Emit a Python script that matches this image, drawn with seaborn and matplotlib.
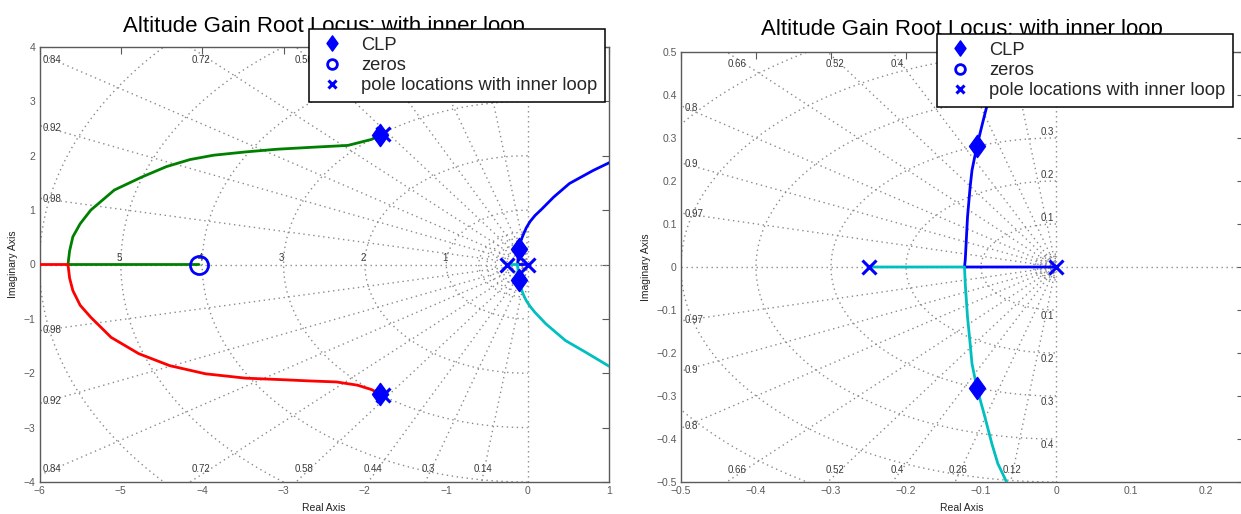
import numpy as np
import matplotlib
matplotlib.use("Agg")
import matplotlib.pyplot as plt
from matplotlib.lines import Line2D
from matplotlib.path import Path
import seaborn as sns

# ---- root locus branches (real / imaginary parts) ----
green_re = [-1.81, -1.92, -2.21, -2.60, -3.08, -3.47, -3.86, -4.15, -4.44, -4.74,
            -5.08, -5.37, -5.50, -5.59, -5.63, -5.65, -4.04]
green_im = [2.38, 2.30, 2.19, 2.16, 2.12, 2.07, 2.01, 1.93, 1.80, 1.61,
            1.37, 1.00, 0.75, 0.51, 0.25, 0.0, 0.0]

red_re = [-1.81, -1.92, -2.09, -2.35, -2.70, -2.99, -3.47, -3.96, -4.40, -4.78,
          -5.12, -5.37, -5.50, -5.59, -5.63, -5.65, -6.30]
red_im = [-2.38, -2.30, -2.22, -2.16, -2.14, -2.12, -2.09, -2.01, -1.86, -1.64,
          -1.34, -0.97, -0.75, -0.48, -0.25, 0.0, 0.0]

blue_re = [0.0, -0.122, -0.121, -0.118, -0.1145, -0.112, -0.1055, -0.097, -0.088,
           -0.078, -0.067, -0.045, -0.015, 0.03, 0.09, 0.174, 0.32, 0.514, 0.806,
           1.0, 1.1]
blue_im = [0.0, 0.0, 0.016, 0.116, 0.186, 0.225, 0.281, 0.341, 0.403,
           0.457, 0.50, 0.58, 0.68, 0.79, 0.90, 1.02, 1.24, 1.49, 1.73,
           1.87, 1.93]

cyan_re = [-0.25, -0.122, -0.121, -0.118, -0.1145, -0.112, -0.1055, -0.096, -0.0855,
           -0.0776, -0.067, -0.045, -0.015, 0.03, 0.09, 0.223, 0.466, 0.709,
           1.0, 1.1]
cyan_im = [0.0, 0.0, -0.039, -0.116, -0.178, -0.225, -0.281, -0.341, -0.411,
           -0.457, -0.496, -0.58, -0.67, -0.77, -0.88, -1.09, -1.40, -1.61,
           -1.87, -1.93]

# ---- markers ----
clp_re = [-1.81, -1.81, -0.105, -0.105]
clp_im = [2.38, -2.38, 0.281, -0.281]
zero_re = [-4.04]
zero_im = [0.0]
pole_re = [-0.25, 0.0, -1.78, -1.78]
pole_im = [0.0, 0.0, 2.395, -2.395]

branch_colors = ["#008000", "#ff0000", "#0000ff", "#00bfbf"]
title_text = "Altitude Gain Root Locus: with inner loop"
legend_labels = ["CLP", "zeros", "pole locations with inner loop"]

# ---- s-plane grid settings for each panel ----
left_grid = dict(zetas=[0.14, 0.3, 0.44, 0.58, 0.72, 0.84, 0.92, 0.98],
                 wns=[1, 2, 3, 4, 5, 6],
                 fine=[0.1, 0.2, 0.3, 0.4, 0.5, 0.6],
                 wn_labels=[1, 2, 3, 4, 5],
                 xlim=(-6, 1), ylim=(-4, 4))
right_grid = dict(zetas=[0.12, 0.26, 0.4, 0.52, 0.66, 0.8, 0.9, 0.97],
                  wns=[0.1, 0.2, 0.3, 0.4, 0.5, 0.6],
                  fine=[0.005, 0.01, 0.015, 0.02, 0.025, 0.03],
                  wn_labels=[0.1, 0.2, 0.3, 0.4],
                  xlim=(-0.5, 0.25), ylim=(-0.5, 0.5))

sns.set_theme(style="white")
plt.rcParams["font.family"] = ["Liberation Sans", "DejaVu Sans"]

GRID_C = "#8a8a8a"
LABEL_C = "#3a3a3a"
AXIS_C = "#5a5a5a"
DOT = (0, (1, 2.6))

diamond = Path([(0, 1), (0.72, 0), (0, -1), (-0.72, 0), (0, 1)],
               [Path.MOVETO, Path.LINETO, Path.LINETO, Path.LINETO, Path.CLOSEPOLY])


def draw_sgrid(ax, zetas, wns, fine, wn_labels, xlim, ylim, wn_on_imag):
    xmin, xmax = xlim
    ymin, ymax = ylim
    xr, yr = xmax - xmin, ymax - ymin
    big = 10 * max(abs(xmin), ymax)
    kw = dict(color=GRID_C, lw=1.0, ls=DOT, zorder=1)
    for z in zetas:
        w = np.sqrt(1 - z ** 2)
        ax.plot([0, -z * big], [0, w * big], **kw)
        ax.plot([0, -z * big], [0, -w * big], **kw)
        t_left = -xmin / z
        t_top = ymax / w
        if t_top < t_left:
            yl = ymax - 0.029 * yr
            xl = -z * (0.967 * ymax) / w
            for s in (1, -1):
                ax.text(xl, s * yl, f"{z:g}", ha="center", va="center",
                        fontsize=7, color=LABEL_C, zorder=2)
        else:
            yl = min(w * t_left * 0.985, ymax - 0.029 * yr)
            xl = xmin + 0.006 * xr
            for s in (1, -1):
                ax.text(xl, s * yl, f"{z:g}", ha="left", va="center",
                        fontsize=7, color=LABEL_C, zorder=2)
    ax.axhline(0, **kw)
    ax.axvline(0, **kw)
    th = np.linspace(np.pi / 2, 3 * np.pi / 2, 400)
    for r in list(wns) + list(fine):
        ax.plot(r * np.cos(th), r * np.sin(th), **kw)
    for r in wn_labels:
        if wn_on_imag:
            for s in (1, -1):
                ax.text(-0.016 * xr, s * (r + 0.014 * yr), f"{r:g}", ha="center",
                        va="center", fontsize=7, color=LABEL_C, zorder=2)
        else:
            ax.text(-r - 0.003 * xr, 0.015 * yr, f"{r:g}", ha="center",
                    va="center", fontsize=7, color=LABEL_C, zorder=2)


def draw_locus(ax):
    for (re, im), c in zip([(green_re, green_im), (red_re, red_im),
                            (blue_re, blue_im), (cyan_re, cyan_im)], branch_colors):
        sns.lineplot(x=re, y=im, sort=False, estimator=None, color=c, lw=2.0,
                     ax=ax, zorder=3)
    ax.plot(pole_re, pole_im, ls="none", marker="x", ms=10, mew=2.2,
            color="#0000ff", zorder=4)
    ax.plot(zero_re, zero_im, ls="none", marker="o", ms=13, mew=2.0,
            mfc="none", mec="#0000ff", zorder=4)
    ax.plot(clp_re, clp_im, ls="none", marker=diamond, ms=16, color="#0000ff",
            mec="#0000ff", zorder=5)


def style_axes(ax, xlim, ylim, xticks, yticks, title_pad):
    ax.set_xlim(*xlim)
    ax.set_ylim(*ylim)
    ax.set_xticks(xticks)
    ax.set_yticks(yticks)
    ax.set_xticklabels([f"{v:g}".replace("-", "\u2212") for v in xticks])
    ax.set_yticklabels([f"{v:g}".replace("-", "\u2212") for v in yticks])
    ax.tick_params(direction="in", top=True, right=True, length=5, width=0.8,
                   color=AXIS_C, labelcolor=AXIS_C, labelsize=7.5, pad=3)
    for sp in ax.spines.values():
        sp.set_color(AXIS_C)
        sp.set_linewidth(1.0)
    ax.set_xlabel("Real Axis", fontsize=7.5, color="#222222", labelpad=5)
    ax.set_ylabel("Imaginary Axis", fontsize=7.5, color="#222222", labelpad=4)
    ax.set_title(title_text, fontsize=16, color="black", pad=title_pad)
    ax.grid(False)


def add_legend(ax, anchor):
    handles = [
        Line2D([], [], ls="none", marker=diamond, ms=11, color="#0000ff"),
        Line2D([], [], ls="none", marker="o", ms=7, mew=2.0, mfc="none",
               mec="#0000ff"),
        Line2D([], [], ls="none", marker="x", ms=5.5, mew=2.2, color="#0000ff"),
    ]
    leg = ax.legend(handles, legend_labels, loc="upper right",
                    bbox_to_anchor=anchor, bbox_transform=ax.figure.transFigure,
                    fontsize=13.2, frameon=True, fancybox=False, framealpha=1,
                    edgecolor="black", borderpad=0.42, labelspacing=0.18,
                    handlelength=1.6, handletextpad=0.8, borderaxespad=0)
    leg.get_frame().set_linewidth(1.1)
    leg.set_zorder(10)


W, H = 1241, 514
fig = plt.figure(figsize=(W / 100, H / 100), dpi=100)
fig.patch.set_facecolor("white")

axL = fig.add_axes([39.5 / W, 1 - 482 / H, (609 - 39.5) / W, (482 - 47) / H])
axR = fig.add_axes([681 / W, 1 - 482 / H, (1243.5 - 681) / W, (482 - 52) / H])

draw_sgrid(axL, left_grid["zetas"], left_grid["wns"], left_grid["fine"],
           left_grid["wn_labels"], left_grid["xlim"], left_grid["ylim"], False)
draw_locus(axL)
style_axes(axL, left_grid["xlim"], left_grid["ylim"], list(range(-6, 2)),
           list(range(-4, 5)), 11)
add_legend(axL, (605 / W, 1 - 29 / H))

draw_sgrid(axR, right_grid["zetas"], right_grid["wns"], right_grid["fine"],
           right_grid["wn_labels"], right_grid["xlim"], right_grid["ylim"], True)
draw_locus(axR)
style_axes(axR, right_grid["xlim"], right_grid["ylim"],
           [-0.5, -0.4, -0.3, -0.2, -0.1, 0, 0.1, 0.2],
           [-0.5, -0.4, -0.3, -0.2, -0.1, 0, 0.1, 0.2, 0.3, 0.4, 0.5], 12)
add_legend(axR, (1233 / W, 1 - 34 / H))

fig.savefig("out.png", dpi=100, facecolor="white")
